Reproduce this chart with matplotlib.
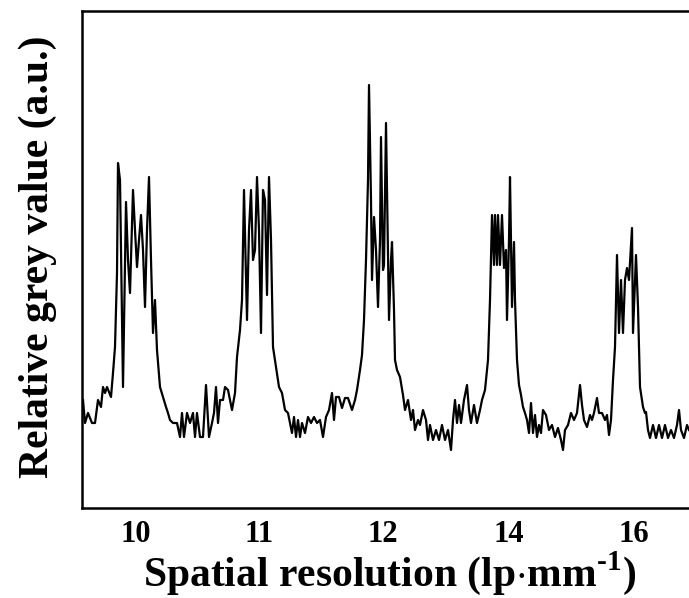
import numpy as np
import matplotlib
matplotlib.use("Agg")
import matplotlib.pyplot as plt

plt.rcParams['font.family'] = ['Liberation Serif', 'DejaVu Serif']
plt.rcParams['font.weight'] = 'bold'
plt.rcParams['mathtext.fontset'] = 'custom'
plt.rcParams['mathtext.rm'] = 'Liberation Serif:bold'
plt.rcParams['mathtext.bf'] = 'Liberation Serif:bold'

# line profile across the resolution target (position along profile, grey value)
pos = [83, 85, 88, 92, 95, 98, 101, 103, 105, 107, 111, 113, 115, 117, 118,
       # 10 lp/mm group
       120, 123, 126, 128, 130, 133, 135, 137, 139, 141, 143, 145, 147, 149, 151,
       152, 153, 155, 157, 160, 163, 166, 168, 170, 173,
       177, 180, 182, 184, 187, 190, 193, 195, 197, 200, 203, 206, 209, 212, 214,
       216, 218, 220, 223, 225, 228, 230, 232, 235, 237, 240,
       # 11 lp/mm group
       242, 244, 246, 247, 249, 251, 253, 255, 257, 259, 261, 263, 265, 267, 269,
       271, 273, 276, 279, 282, 285, 288, 290,
       292, 294, 296, 298, 300, 302, 305, 308, 311, 314, 317, 320, 323, 326, 329,
       332, 334, 336, 339, 342, 345, 348, 352, 355, 357, 360,
       # 12 lp/mm group
       362, 364, 366, 368, 369, 371, 372, 374, 376, 378, 380, 381, 383, 384, 386,
       388, 389, 391, 392, 394, 395, 397, 400, 403, 405, 408, 411, 413, 415, 418,
       420, 423, 426, 428, 430, 433, 436, 439, 442, 445, 448, 451, 453, 455, 457,
       459, 461, 464, 467, 469, 471, 474, 477, 480, 482, 485, 488,
       # 14 lp/mm group
       490, 492, 494, 495, 497, 498, 500, 502, 504, 506, 507, 509, 510, 512, 514,
       515, 517, 519, 521, 523, 525, 527,
       529, 531, 533, 535, 537, 539, 541, 543, 546, 549, 552, 555, 558, 561, 563,
       565, 568, 571, 574, 577, 579, 580, 582, 584, 587, 590, 592, 594, 597, 599,
       602, 605, 607, 609, 611, 613,
       # 16 lp/mm group
       615, 617, 619, 621, 623, 625, 627, 629, 632, 633, 636, 638, 640, 643, 645,
       646, 648, 650, 653, 656, 659, 662, 665, 668, 671, 674, 677, 679, 681, 684,
       687, 689]

grey = [108, 85, 95, 85, 85, 108, 101, 121, 115, 121, 111, 135, 161, 235, 345,
        328, 121, 306, 248, 215, 318, 278, 241, 268, 293, 258, 201, 278, 331, 248,
        213, 175, 208, 158, 121, 111, 101, 95, 88, 85,
        85, 71, 95, 71, 95, 85, 95, 71, 95, 71, 71, 123, 71, 85, 95,
        121, 85, 108, 108, 121, 118, 108, 98, 115, 151, 178,
        208, 318, 228, 188, 278, 318, 248, 258, 331, 278, 175, 318, 308, 213, 331,
        268, 161, 141, 121, 115, 98, 95, 85,
        75, 91, 71, 88, 71, 85, 75, 91, 85, 91, 85, 88, 71, 91, 98,
        115, 88, 111, 111, 100, 110, 110, 98, 108, 118, 138,
        153, 188, 248, 328, 423, 308, 228, 291, 258, 201, 268, 371, 238, 243, 385,
        258, 188, 248, 266, 198, 148, 138, 131, 113, 98, 108, 88, 98, 78, 88,
        83, 98, 88, 68, 83, 68, 78, 68, 83, 68, 78, 58, 88, 108, 85,
        103, 85, 108, 123, 98, 85, 103, 85, 98, 108, 118, 148,
        208, 293, 243, 293, 243, 293, 243, 293, 240, 258, 188, 268, 331, 201, 266,
        208, 148, 123, 113, 101, 95, 88,
        75, 105, 75, 93, 71, 83, 75, 98, 93, 78, 83, 71, 80, 68, 58,
        78, 83, 95, 88, 95, 113, 123, 103, 88, 81, 93, 88, 95, 110, 95,
        95, 88, 93, 73, 88, 128,
        161, 253, 175, 228, 175, 228, 240, 228, 280, 175, 253, 201, 121, 101, 95,
        96, 78, 70, 83, 70, 83, 70, 83, 70, 78, 70, 83, 98, 78, 70,
        83, 78]

tick_pos = [136, 259, 383, 509, 634]
tick_labels = ['10', '11', '12', '14', '16']

fig = plt.figure(figsize=(6.89, 5.98), dpi=100)
ax = fig.add_axes([82/689, 90/598, 607/689, 497/598])

ax.plot(pos, grey, color='black', lw=1.6)
ax.set_xlim(82, 689)
ax.set_ylim(0, 497)

ax.set_xticks(tick_pos)
ax.set_xticklabels(tick_labels)
ax.set_yticks([])
ax.tick_params(axis='x', length=0, pad=9, labelsize=22)

for s in ['top', 'left', 'bottom']:
    ax.spines[s].set_linewidth(1.8)
ax.spines['right'].set_visible(False)

ax.set_xlabel(r'Spatial resolution (lp$\cdot$mm$^{\text{-1}}$)', fontsize=30, fontweight='bold')
ax.set_ylabel('Relative grey value (a.u.)', fontsize=30, fontweight='bold')
ax.xaxis.label.set_va('center')
ax.xaxis.set_label_coords(0.506, -0.131)
ax.yaxis.label.set_va('center')
ax.yaxis.set_label_coords(-0.0725, 0.505)

plt.savefig("out.png", dpi=100)
